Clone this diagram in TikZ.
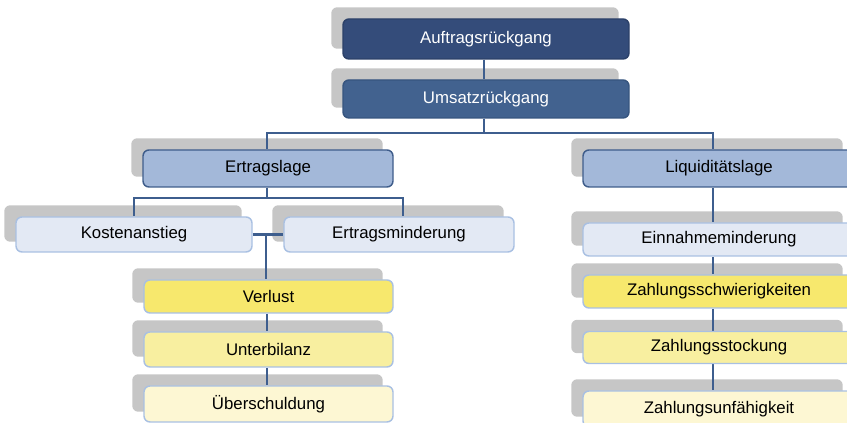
\documentclass[tikz,border=0pt]{standalone}
\usepackage{fontspec}
\setmainfont{Liberation Sans}
\usetikzlibrary{calc}
\definecolor{shadowc}{HTML}{C6C6C6}
\definecolor{linec}{HTML}{3E5E8E}
\definecolor{navy}{HTML}{344C7A}
\definecolor{navyb}{HTML}{2C4169}
\definecolor{midblue}{HTML}{42628F}
\definecolor{midblueb}{HTML}{37557F}
\definecolor{paleblue}{HTML}{A3B8D9}
\definecolor{palebluebd}{HTML}{3F5D8B}
\definecolor{lightblue}{HTML}{E3E9F4}
\definecolor{lightbd}{HTML}{A9C0E2}
\definecolor{yel1}{HTML}{F7E86D}
\definecolor{yel2}{HTML}{F8EFA0}
\definecolor{yel3}{HTML}{FDF7D3}
\pgfdeclarelayer{shadowlayer}
\pgfdeclarelayer{linelayer}
\pgfsetlayers{shadowlayer,linelayer,main}
\tikzset{
  boxbase/.style={rounded corners=4.5pt, line width=1.1pt, inner sep=0pt,
    font=\fontsize{12.6pt}{14pt}\selectfont, anchor=center},
  darkbox/.style={boxbase, fill=navy, draw=navyb, text=white},
  midbox/.style={boxbase, fill=midblue, draw=midblueb, text=white},
  palebox/.style={boxbase, fill=paleblue, draw=palebluebd, text=black},
  lightbox/.style={boxbase, fill=lightblue, draw=lightbd, text=black},
  y1box/.style={boxbase, fill=yel1, draw=lightbd, text=black},
  y2box/.style={boxbase, fill=yel2, draw=lightbd, text=black},
  y3box/.style={boxbase, fill=yel3, draw=lightbd, text=black},
  conn/.style={draw=linec, line width=1.8pt},
  shadowbox/.style={fill=shadowc, rounded corners=4.5pt}
}
\begin{document}
\begin{tikzpicture}[x=0.75pt, y=-0.75pt]
\useasboundingbox (0,0) rectangle (847,423);
\clip (0,0) rectangle (847,423);
% nodes
\node[darkbox, minimum width=286*0.75pt, minimum height=40*0.75pt] (A) at (486,39) {Auftragsrückgang};
\node[midbox, minimum width=286*0.75pt, minimum height=38*0.75pt] (U) at (486,99) {Umsatzrückgang};
\node[palebox, minimum width=250*0.75pt, minimum height=37*0.75pt] (E) at (268,168.5) {Ertragslage};
\node[palebox, minimum width=272*0.75pt, minimum height=37*0.75pt] (L) at (719,168.5) {Liquiditätslage};
\node[lightbox, minimum width=236*0.75pt, minimum height=35*0.75pt] (K) at (134,234.5) {Kostenanstieg};
\node[lightbox, minimum width=230*0.75pt, minimum height=35*0.75pt] (EM) at (399,234.5) {Ertragsminderung};
\node[y1box, minimum width=249*0.75pt, minimum height=33*0.75pt] (V) at (268.5,296.5) {Verlust};
\node[y2box, minimum width=249*0.75pt, minimum height=35*0.75pt] (UB) at (268.5,349.5) {Unterbilanz};
\node[y3box, minimum width=249*0.75pt, minimum height=36*0.75pt] (UE) at (268.5,404) {Überschuldung};
\node[lightbox, minimum width=272*0.75pt, minimum height=33*0.75pt] (EN) at (719,239.5) {Einnahmeminderung};
\node[y1box, minimum width=272*0.75pt, minimum height=33*0.75pt] (ZS) at (719,291.5) {Zahlungsschwierigkeiten};
\node[y2box, minimum width=272*0.75pt, minimum height=32*0.75pt] (ZST) at (719,347.5) {Zahlungsstockung};
\node[y3box, minimum width=272*0.75pt, minimum height=36*0.75pt] (ZU) at (719,409) {Zahlungsunfähigkeit};
% helper coordinates
\coordinate (rx) at (713,0);
\coordinate (lx) at (267,0);
\coordinate (b1) at (484,133);
\coordinate (b2) at (267,198);
\coordinate (kx) at (134,0);
\coordinate (ex) at (403,0);
\coordinate (jx) at (266,0);
% shadows
\begin{pgfonlayer}{shadowlayer}
\foreach \n in {A,U,E,K,EM,V,UB,UE}{
  \fill[shadowbox] ($(\n.south west)+(-11,-11)$) rectangle ($(\n.north east)+(-11,-11)$);
}
\foreach \n in {L,EN,ZS,ZST,ZU}{
  \fill[shadowbox] ($(\n.south west)+(-11,-11)$) rectangle ($(\n.north east)+(-13,-11)$);
}
\end{pgfonlayer}
% connectors
\begin{pgfonlayer}{linelayer}
\draw[conn] (A.south -| b1) -- (U.north -| b1);
\draw[conn] (U.south -| b1) -- (b1) -- (b1 -| lx) -- (E.north -| lx);
\draw[conn] (b1) -- (b1 -| rx) -- (L.north -| rx);
\draw[conn] (E.south -| b2) -- (b2) -- (b2 -| kx) -- (K.north -| kx);
\draw[conn] (b2) -- (b2 -| ex) -- (EM.north -| ex);
\draw[conn] (K.east) -- (EM.west);
\draw[conn] (K.east -| jx) -- (V.north -| jx);
\draw[conn] (V.south -| lx) -- (UB.north -| lx);
\draw[conn] (UB.south -| lx) -- (UE.north -| lx);
\draw[conn] (L.south -| rx) -- (EN.north -| rx);
\draw[conn] (EN.south -| rx) -- (ZS.north -| rx);
\draw[conn] (ZS.south -| rx) -- (ZST.north -| rx);
\draw[conn] (ZST.south -| rx) -- (ZU.north -| rx);
\end{pgfonlayer}
\end{tikzpicture}
\end{document}
